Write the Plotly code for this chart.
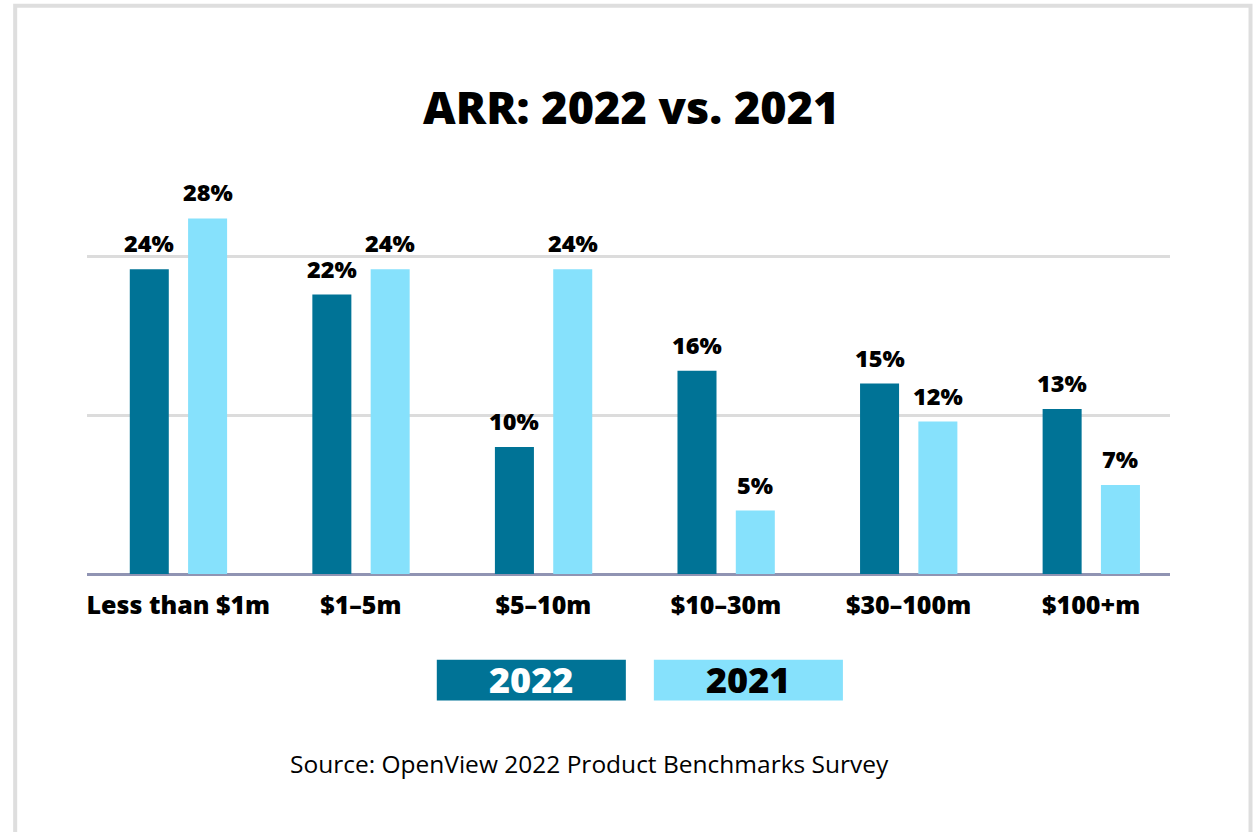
import plotly.graph_objects as go

# ARR bands and share of respondents in each band (%)
categories = ["Less than $1m", "$1–5m", "$5–10m", "$10–30m", "$30–100m", "$100+m"]
share_2022 = [24, 22, 10, 16, 15, 13]
share_2021 = [28, 24, 24, 5, 12, 7]
series_names = ["2022", "2021"]
y_ticks = [0, 12.5, 25]

title_text = "ARR: 2022 vs. 2021"
source_text = "Source: OpenView 2022 Product Benchmarks Survey"

DARK = "#007396"
LIGHT = "#86E1FC"
FONT = "Open Sans"

W, H = 1253, 832
L, R = 87.3, 1170.0          # plot area, px
T, B = 193.0, 574.3

def px(x):
    return (x - L) / (R - L)

def py(y):
    return (B - y) / (B - T)

x_pos = list(range(len(categories)))
bar_w = 0.2137

fig = go.Figure()
fig.add_trace(go.Bar(
    x=x_pos, y=share_2022, name=series_names[0],
    width=bar_w, offset=-0.2657,
    marker=dict(color=DARK, line=dict(width=0)),
    hoverinfo="skip",
))
fig.add_trace(go.Bar(
    x=x_pos, y=share_2021, name=series_names[1],
    width=bar_w, offset=0.0537,
    marker=dict(color=LIGHT, line=dict(width=0)),
    hoverinfo="skip",
))

annotations = []
# value labels above each bar
for i, (a, b) in enumerate(zip(share_2022, share_2021)):
    for val, off in ((a, -0.2657), (b, 0.0537)):
        annotations.append(dict(
            x=i + off + bar_w / 2, y=val, xref="x", yref="y",
            text=f"{val}%", showarrow=False, yanchor="bottom", yshift=8,
            font=dict(family=FONT, size=23.5, color="#000000", weight=800),
        ))

# title
annotations.append(dict(
    x=px(631), y=py(106), xref="paper", yref="paper", text=title_text,
    showarrow=False, xanchor="center", yanchor="middle",
    font=dict(family=FONT, size=45, color="#000000", weight=800),
))

# legend boxes
shapes = []
legend_boxes = [(437, 626, DARK, "#FFFFFF"), (654, 843, LIGHT, "#000000")]
for name, (x0, x1, fill, tc) in zip(series_names, legend_boxes):
    shapes.append(dict(
        type="rect", xref="paper", yref="paper",
        x0=px(x0), x1=px(x1), y0=py(701), y1=py(660),
        fillcolor=fill, line=dict(width=0), layer="above",
    ))
    annotations.append(dict(
        x=px((x0 + x1) / 2), y=py(680), xref="paper", yref="paper",
        text=name, showarrow=False, xanchor="center", yanchor="middle",
        font=dict(family=FONT, size=36, color=tc, weight=800),
    ))

# source note
annotations.append(dict(
    x=px(589.5), y=py(764), xref="paper", yref="paper", text=source_text,
    showarrow=False, xanchor="center", yanchor="middle",
    font=dict(family=FONT, size=24.5, color="#000000"),
))

# outer frame
shapes.append(dict(
    type="rect", xref="paper", yref="paper",
    x0=px(15.5), x1=px(1250.5), y0=py(860), y1=py(5.5),
    line=dict(color="#DEDEDE", width=4), fillcolor="rgba(0,0,0,0)",
))

fig.update_layout(
    width=W, height=H,
    margin=dict(l=L, r=W - R, t=T, b=H - B, pad=0),
    paper_bgcolor="#FFFFFF", plot_bgcolor="#FFFFFF",
    showlegend=False,
    barmode="overlay",
    annotations=annotations,
    shapes=shapes,
    xaxis=dict(
        range=[-0.5, 5.432], tickmode="array", tickvals=x_pos, ticktext=categories,
        showgrid=False, zeroline=False, showline=False, ticks="",
        tickfont=dict(family=FONT, size=25, color="#000000", weight=800),
        ticklabelstandoff=14, fixedrange=True,
    ),
    yaxis=dict(
        range=[0, 30], tickmode="array", tickvals=y_ticks, showticklabels=False,
        showgrid=True, gridcolor="#DCDCDC", gridwidth=3,
        zeroline=True, zerolinecolor="#9094B3", zerolinewidth=3,
        showline=False, ticks="", fixedrange=True,
    ),
)

fig.write_html("out.html", config={"displayModeBar": False})
